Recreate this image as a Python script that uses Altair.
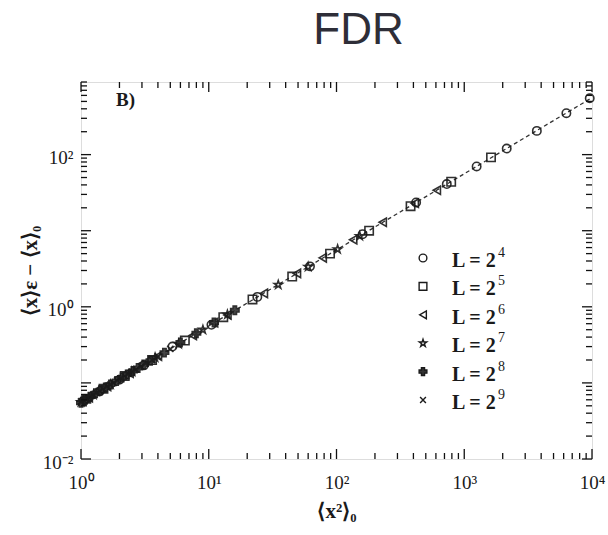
import altair as alt
import pandas as pd

# ---------------- data ----------------
series = ["L = 2⁴", "L = 2⁵", "L = 2⁶", "L = 2⁷", "L = 2⁸", "L = 2⁹"]
legend_base = ["L = 2"] * 6
legend_exp = ["4", "5", "6", "7", "8", "9"]

l4_x = [1.05, 1.4, 2.0, 3.1, 5.2, 10.5, 24, 62, 160, 420, 730, 1250, 2150, 3700, 6300, 9600]
l4_y = [0.058, 0.077, 0.11, 0.17, 0.30, 0.58, 1.35, 3.4, 9.0, 23.5, 41, 70, 120, 205, 350, 550]

l5_x = [1.1, 1.5, 2.2, 3.6, 6.5, 13, 22, 45, 89, 180, 380, 790, 1620]
l5_y = [0.062, 0.084, 0.123, 0.20, 0.36, 0.73, 1.25, 2.5, 5.0, 10, 21, 44, 92]

l6_x = [1.15, 1.6, 2.4, 4.0, 7.5, 11, 14, 27, 49, 78, 135, 230, 410, 610]
l6_y = [0.064, 0.09, 0.134, 0.225, 0.42, 0.62, 0.78, 1.5, 2.75, 4.4, 7.6, 12.9, 23, 34]

l7_x = [1.0, 1.25, 1.7, 2.5, 3.8, 5.8, 9, 14, 35, 60, 102, 152]
l7_y = [0.056, 0.07, 0.095, 0.14, 0.215, 0.325, 0.5, 0.79, 1.95, 3.35, 5.7, 8.5]

l8_x = [1.0, 1.08, 1.18, 1.3, 1.42, 1.55, 1.7, 1.9, 2.1, 2.3, 2.55, 2.8, 3.1, 3.5, 4.5, 6.0, 8.0, 11, 16]
l8_y = [0.055, 0.060, 0.066, 0.073, 0.080, 0.087, 0.095, 0.106, 0.118, 0.129, 0.143, 0.157, 0.174,
        0.196, 0.25, 0.34, 0.45, 0.62, 0.9]

l9_x = [1.0, 1.05, 1.1, 1.15, 1.2, 1.25, 1.32, 1.4, 1.5, 1.6, 1.7, 1.8, 1.92, 2.05, 2.2, 2.35,
        2.5, 2.7, 2.95, 3.2, 3.6, 4.0, 5.0]
l9_y = [0.057, 0.059, 0.061, 0.064, 0.067, 0.070, 0.074, 0.078, 0.084, 0.09, 0.095, 0.10, 0.108,
        0.115, 0.123, 0.132, 0.140, 0.151, 0.165, 0.18, 0.20, 0.224, 0.28]

fit_x = [1, 10000]
fit_y = [0.056, 560]

x_tick_values = [1, 10, 100, 1000, 10000]
x_tick_labels = ["10⁰", "10¹", "10²", "10³", "10⁴"]
y_tick_values = [0.01, 1, 100]
y_tick_labels = ["10⁻²", "10⁰", "10²"]
x_decades = [1, 10, 100, 1000]
y_decades = [0.01, 0.1, 1, 10, 100]
minor_mult = [2, 3, 4, 5, 6, 7, 8, 9]

# ---------------- tables ----------------
rows = []
for name, xs, ys in zip(series, [l4_x, l5_x, l6_x, l7_x, l8_x, l9_x],
                        [l4_y, l5_y, l6_y, l7_y, l8_y, l9_y]):
    for a, b in zip(xs, ys):
        rows.append({"series": name, "x": a, "y": b})
pts = pd.DataFrame(rows)
fit = pd.DataFrame({"x": fit_x, "y": fit_y})
legend_df = pd.DataFrame({"series": series, "base": legend_base, "exp": legend_exp,
                          "row": list(range(len(series)))})

W, H = 511, 377
MAJ, MIN = 10, 6

x_major = list(x_tick_values)
y_major = [0.01, 0.1, 1, 10, 100]
x_minor = [d * m for d in x_decades for m in minor_mult]
y_minor = [d * m for d in y_decades for m in minor_mult if d * m <= 900]

xt = pd.DataFrame({"v": x_major + x_minor, "len": [MAJ] * len(x_major) + [MIN] * len(x_minor)})
yt = pd.DataFrame({"v": y_major + y_minor, "len": [MAJ] * len(y_major) + [MIN] * len(y_minor)})

xscale = alt.Scale(type="log", domain=[1, 10000], nice=False)
yscale = alt.Scale(type="log", domain=[0.01, 900], nice=False)

def label_expr(values, labels):
    parts = []
    for v, l in zip(values, labels):
        parts.append(f"abs(datum.value - {v}) < {v} * 0.001 ? '{l}' : ")
    return "".join(parts) + "''"

SERIF = "Liberation Serif"
INK = "#1a1a1a"

xaxis = alt.Axis(values=x_tick_values, labelExpr=label_expr(x_tick_values, x_tick_labels),
                 ticks=False, domain=False, grid=False, labelFont=SERIF, labelFontSize=19,
                 labelColor=INK, labelPadding=14, title="⟨x²⟩₀", titleFont=SERIF,
                 titleFontSize=21, titleFontWeight="bold", titleColor=INK, titlePadding=8,
                 labelFlush=False)
yaxis = alt.Axis(values=y_tick_values, labelExpr=label_expr(y_tick_values, y_tick_labels),
                 ticks=False, domain=False, grid=False, labelFont=SERIF, labelFontSize=19,
                 labelColor=INK, labelPadding=8, labelOffset=3, title="⟨x⟩ε − ⟨x⟩₀",
                 titleFont=SERIF, titleFontSize=21, titleFontWeight="bold", titleColor=INK,
                 titlePadding=2, labelFlush=False)

star = ("M0,-1L0.2245,-0.309L0.951,-0.309L0.363,0.118L0.588,0.809L0,0.382"
        "L-0.588,0.809L-0.363,0.118L-0.951,-0.309L-0.2245,-0.309Z")
xmark = "M-0.75,-0.75L0.75,0.75M-0.75,0.75L0.75,-0.75"
shapes = ["circle", "square", "triangle-left", star, "cross", xmark]
fills = ["transparent", "transparent", "transparent", "transparent", "#333", "transparent"]

shape_scale = alt.Scale(domain=series, range=shapes)
fill_scale = alt.Scale(domain=series, range=fills)

line = alt.Chart(fit).mark_line(strokeDash=[4, 3], color="#333", strokeWidth=1.3).encode(
    x=alt.X("x:Q", scale=xscale, axis=xaxis),
    y=alt.Y("y:Q", scale=yscale, axis=yaxis),
)

points = alt.Chart(pts).mark_point(size=70, strokeWidth=1.6, stroke=INK, opacity=0.9).encode(
    x=alt.X("x:Q", scale=xscale),
    y=alt.Y("y:Q", scale=yscale),
    shape=alt.Shape("series:N", scale=shape_scale, legend=None),
    fill=alt.Fill("series:N", scale=fill_scale, legend=None),
)

# manual legend
leg_sym = alt.Chart(legend_df).transform_calculate(py="176 + 28.4 * datum.row").mark_point(
    size=60, strokeWidth=1.4, stroke=INK, opacity=1).encode(
    x=alt.value(342),
    y=alt.Y("py:Q", scale=None),
    shape=alt.Shape("series:N", scale=shape_scale, legend=None),
    fill=alt.Fill("series:N", scale=fill_scale, legend=None),
)
leg_txt = alt.Chart(legend_df).transform_calculate(py="179 + 28.4 * datum.row").mark_text(
    font=SERIF, fontSize=20, fontWeight="bold", color=INK, align="left", baseline="middle").encode(
    x=alt.value(371),
    y=alt.Y("py:Q", scale=None),
    text="base:N",
)
leg_exp = alt.Chart(legend_df).transform_calculate(py="171 + 28.4 * datum.row").mark_text(
    font=SERIF, fontSize=14, fontWeight="normal", color=INK, align="left", baseline="middle").encode(
    x=alt.value(417),
    y=alt.Y("py:Q", scale=None),
    text="exp:N",
)

def rule(df):
    return alt.Chart(df).mark_rule(color="#111", strokeWidth=1.3)

bottom = rule(xt).transform_calculate(a=f"{H}", b=f"{H} - datum.len").encode(
    x=alt.X("v:Q", scale=xscale), y=alt.Y("a:Q", scale=None), y2="b:Q")
top = rule(xt).transform_calculate(a="0", b="datum.len").encode(
    x=alt.X("v:Q", scale=xscale), y=alt.Y("a:Q", scale=None), y2="b:Q")
left = rule(yt).transform_calculate(a="0", b="datum.len").encode(
    y=alt.Y("v:Q", scale=yscale), x=alt.X("a:Q", scale=None), x2="b:Q")
right = rule(yt).transform_calculate(a=f"{W}", b=f"{W} - datum.len").encode(
    y=alt.Y("v:Q", scale=yscale), x=alt.X("a:Q", scale=None), x2="b:Q")

label_b = alt.Chart(pd.DataFrame({"t": ["B)"]})).mark_text(
    font=SERIF, fontSize=19, fontWeight="bold", color=INK, align="left", baseline="middle"
).encode(text="t:N", x=alt.value(35), y=alt.value(18))

chart = alt.layer(line, points, bottom, top, left, right, leg_sym, leg_txt, leg_exp,
                  label_b).properties(
    width=W, height=H,
    title=alt.TitleParams("FDR", font="Liberation Sans", fontSize=44, fontWeight="normal",
                          color="#2e2e38", anchor="middle", dx=22, offset=28),
    autosize=alt.AutoSizeParams(type="none"),
    padding={"left": 81, "top": 82, "right": 16, "bottom": 76},
).configure_view(stroke="#111", strokeWidth=1.5).configure(background="white")

chart.save("out.html", embed_options={"renderer": "svg", "actions": False})
